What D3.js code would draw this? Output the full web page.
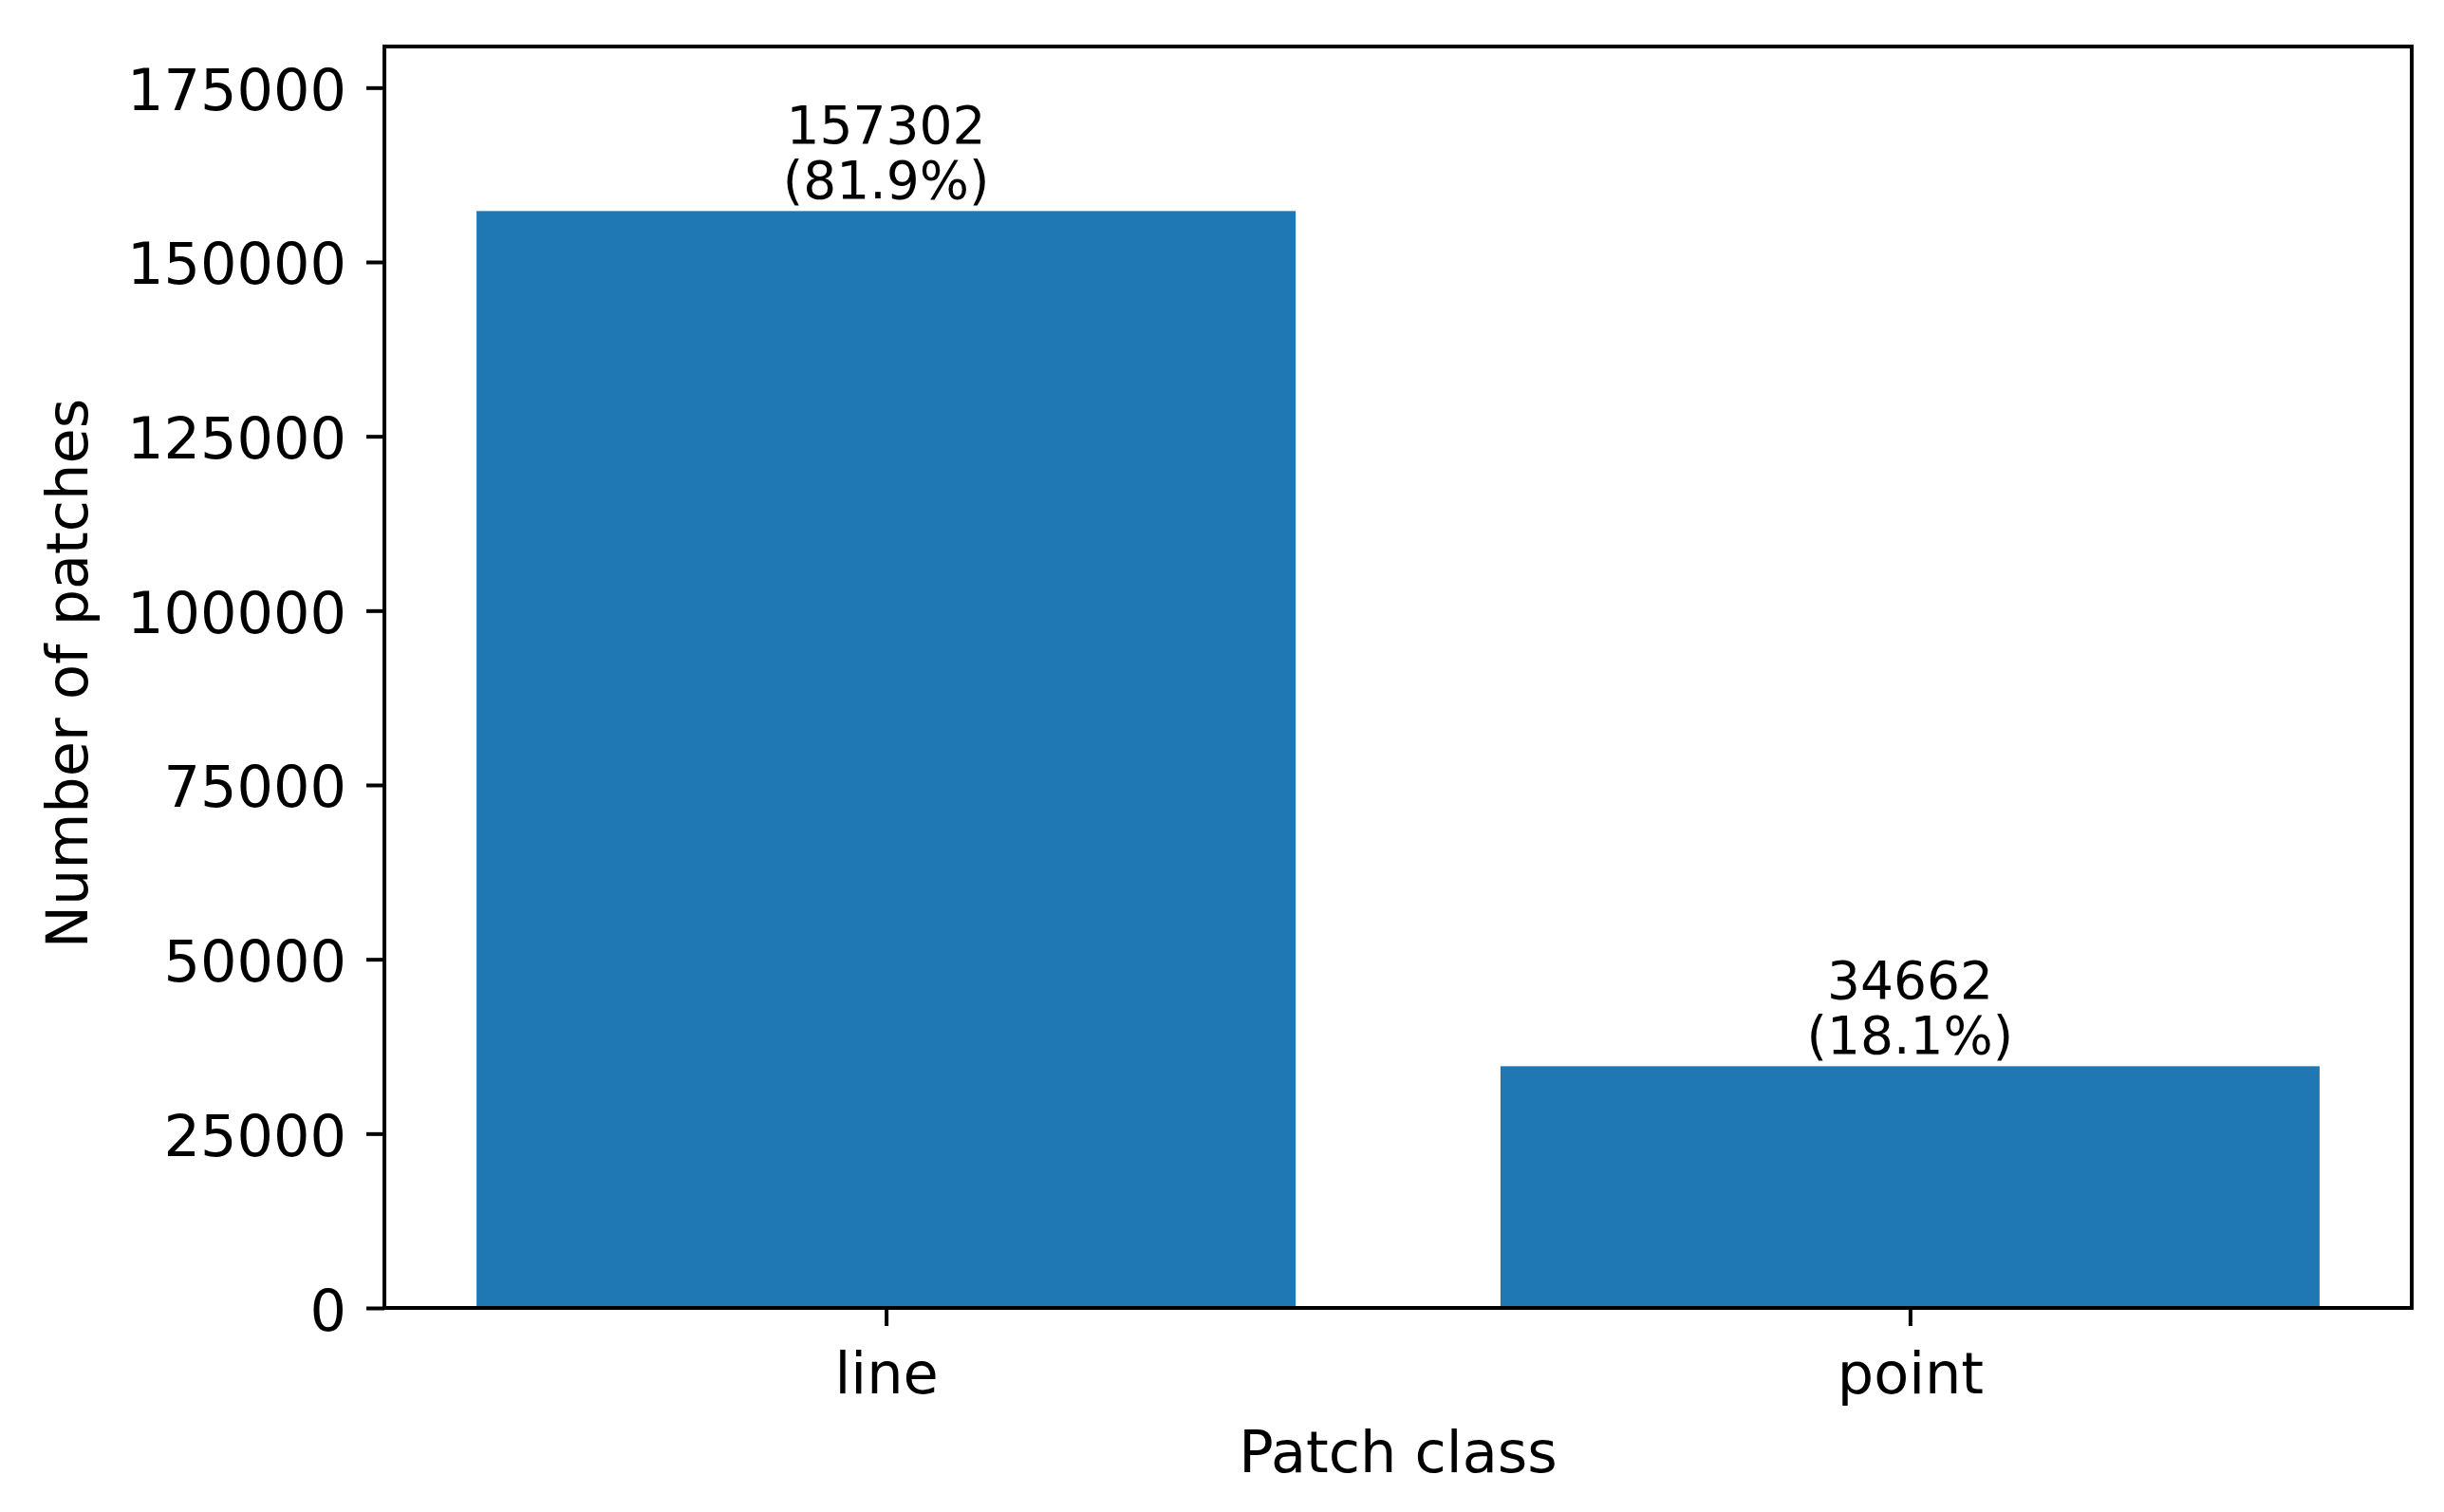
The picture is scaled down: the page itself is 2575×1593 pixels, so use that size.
<!DOCTYPE html>
<html>
<head>
<meta charset="utf-8">
<script src="https://cdn.jsdelivr.net/npm/d3@7"></script>
<style>
  body { margin: 0; background: #fff; }
  svg { display: block; }
  text { font-family: "DejaVu Sans", sans-serif; fill: #000; }
</style>
</head>
<body>
<svg id="chart" width="2575" height="1593"></svg>
<script>
// data
var categories = ["line", "point"];
var counts = [157302, 34662];
var shares = [81.9, 18.1];
var yTicks = [0, 25000, 50000, 75000, 100000, 125000, 150000, 175000];

var W = 2575, H = 1593;
// plot box (note: "top" clashes with window.top, so use plot* names)
var plotLeft = 405, plotRight = 2541, plotTop = 49, plotBottom = 1378;
var barColor = "#1f77b4";
var tickLen = 19, stroke = 4;

var svg = d3.select("#chart");
svg.append("rect").attr("width", W).attr("height", H).attr("fill", "#fff");

// x is a linear scale over bar index, like matplotlib's default margins
var x = d3.scaleLinear().domain([-0.49, 1.49]).range([plotLeft, plotRight]);
var y = d3.scaleLinear().domain([0, 180897]).range([plotBottom, plotTop]);
var barW = 0.8;

var bars = svg.append("g");
bars.selectAll("rect")
    .data(counts)
    .enter()
    .append("rect")
    .attr("x", function (d, i) { return x(i - barW / 2); })
    .attr("width", function (d, i) { return x(i + barW / 2) - x(i - barW / 2); })
    .attr("y", function (d) { return y(d); })
    .attr("height", function (d) { return y(0) - y(d); })
    .attr("fill", barColor);

// value labels above bars
var labels = svg.append("g").attr("text-anchor", "middle").style("font-size", "55px");
labels.selectAll(".val")
    .data(counts)
    .enter()
    .append("text")
    .attr("class", "val")
    .attr("x", function (d, i) { return x(i); })
    .attr("y", function (d) { return y(d) - 71; })
    .text(function (d) { return d; });
labels.selectAll(".pct")
    .data(shares)
    .enter()
    .append("text")
    .attr("class", "pct")
    .attr("x", function (d, i) { return x(i); })
    .attr("y", function (d, i) { return y(counts[i]) - 13; })
    .text(function (d) { return "(" + d.toFixed(1) + "%)"; });

// y axis
var yAxis = d3.axisLeft(y)
    .tickValues(yTicks)
    .tickSize(tickLen)
    .tickPadding(21)
    .tickFormat(function (d) { return d; });
var gy = svg.append("g").attr("transform", "translate(" + plotLeft + ",0)").call(yAxis);
gy.select(".domain").remove();
gy.selectAll(".tick line").attr("stroke", "#000").attr("stroke-width", stroke);
gy.selectAll(".tick text")
    .attr("dy", "0.38em")
    .style("font-size", "60.5px")
    .style("font-family", "DejaVu Sans")
    .attr("fill", "#000");

// x axis
var xAxis = d3.axisBottom(x)
    .tickValues(categories.map(function (d, i) { return i; }))
    .tickSize(tickLen)
    .tickPadding(28)
    .tickFormat(function (d) { return categories[d]; });
var gx = svg.append("g").attr("transform", "translate(0," + plotBottom + ")").call(xAxis);
gx.select(".domain").remove();
gx.selectAll(".tick line").attr("stroke", "#000").attr("stroke-width", stroke);
gx.selectAll(".tick text")
    .style("font-size", "60.5px")
    .style("font-family", "DejaVu Sans")
    .attr("fill", "#000");

// frame
svg.append("rect")
    .attr("x", plotLeft)
    .attr("y", plotTop)
    .attr("width", plotRight - plotLeft)
    .attr("height", plotBottom - plotTop)
    .attr("fill", "none")
    .attr("stroke", "#000")
    .attr("stroke-width", stroke);

// axis titles
svg.append("text")
    .attr("x", (plotLeft + plotRight) / 2)
    .attr("y", 1551)
    .attr("text-anchor", "middle")
    .style("font-size", "60.5px")
    .text("Patch class");

svg.append("text")
    .attr("transform", "translate(92," + ((plotTop + plotBottom) / 2 - 4) + ") rotate(-90)")
    .attr("text-anchor", "middle")
    .style("font-size", "60.5px")
    .text("Number of patches");
</script>
</body>
</html>
